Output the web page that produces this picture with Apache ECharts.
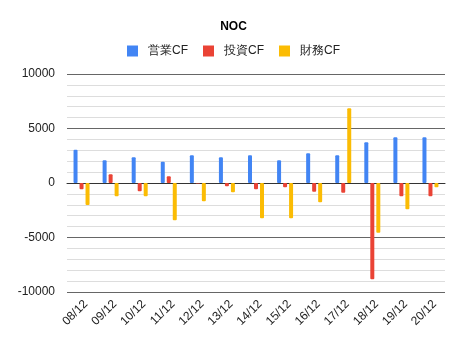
<!DOCTYPE html>
<html><head><meta charset="utf-8">
<script src="https://cdn.jsdelivr.net/npm/echarts@6/dist/echarts.min.js"></script>
<style>html,body{margin:0;padding:0;background:#fff}#c{width:467px;height:342px}</style>
</head><body><div id="c"></div>
<script>
const categories = ['08/12','09/12','10/12','11/12','12/12','13/12','14/12','15/12','16/12','17/12','18/12','19/12','20/12'];
const operatingCF = [3050, 2080, 2360, 1960, 2540, 2360, 2540, 2080, 2720, 2540, 3730, 4190, 4190];
const investingCF = [-580, 800, -760, 610, -50, -300, -580, -400, -800, -890, -8840, -1220, -1220];
const financingCF = [-2020, -1220, -1220, -3420, -1680, -850, -3240, -3240, -1770, 6850, -4560, -2410, -400];
const yTicks = [-10000, -5000, 0, 5000, 10000];

const font = 'Liberation Sans, Arial, sans-serif';
const chart = echarts.init(document.getElementById('c'), null, {renderer: 'canvas'});
const mk = (name, data, color) => ({
  name, type: 'bar', data, barWidth: 4, barGap: '50%',
  itemStyle: {color, borderRadius: 1}
});
chart.setOption({
  animation: false,
  title: {text: 'NOC', left: 'center', top: 16, textStyle: {fontFamily: font, fontSize: 12, fontWeight: 'bold', color: '#000'}},
  legend: {top: 40, left: 'center', itemWidth: 11, itemHeight: 11, itemGap: 15, icon: 'rect',
    textStyle: {fontFamily: font, fontSize: 12, color: '#222', padding: [0, 0, 0, 5]}},
  grid: {left: 67, right: 22, top: 74, bottom: 50},
  xAxis: {type: 'category', data: categories,
    axisLine: {onZero: true, lineStyle: {color: '#333', width: 1}},
    axisTick: {show: false},
    axisLabel: {rotate: 45, fontFamily: font, fontSize: 12, color: '#222', interval: 0, margin: 6, verticalAlign: 'top'}
  },
  yAxis: {type: 'value', min: yTicks[0], max: yTicks[yTicks.length-1], interval: 5000,
    axisLabel: {fontFamily: font, fontSize: 12, color: '#222', margin: 12, formatter: v => String(v)},
    axisLine: {show: false}, axisTick: {show: false},
    splitLine: {lineStyle: {color: '#666', width: 1}},
    minorTick: {show: false, splitNumber: 5},
    minorSplitLine: {show: true, lineStyle: {color: '#ddd', width: 1}}
  },
  series: [
    mk('営業CF', operatingCF, '#4285F4'),
    mk('投資CF', investingCF, '#EA4335'),
    mk('財務CF', financingCF, '#FBBC04')
  ]
});
</script></body></html>
